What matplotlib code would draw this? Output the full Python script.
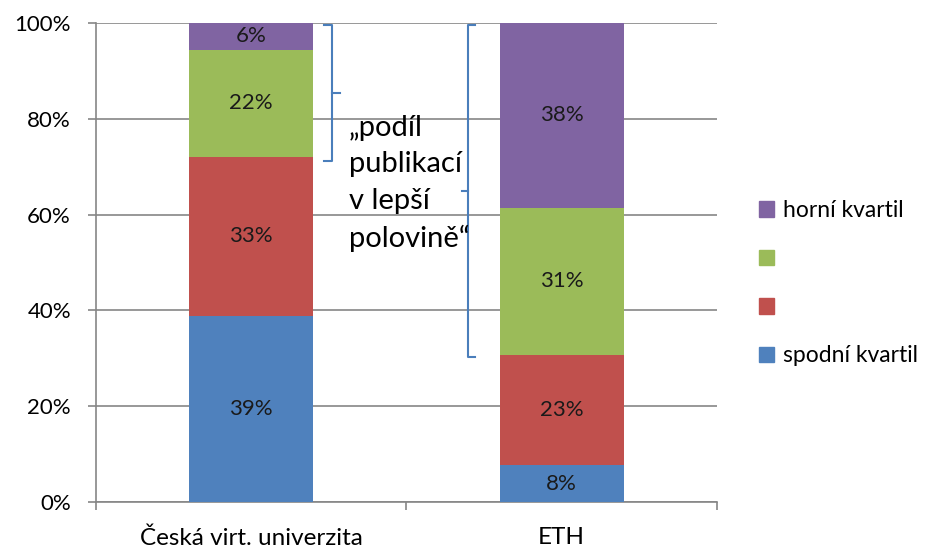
import matplotlib
matplotlib.use("Agg")
import matplotlib.pyplot as plt
import numpy as np
from matplotlib.patches import Patch

plt.rcParams['font.family'] = ['Lato', 'DejaVu Sans']

# data (shares, %)
categories = ["Česká virt. univerzita", "ETH"]
series_names = ["spodní kvartil", "", "", "horní kvartil"]
values = [
    [38.8, 7.7],    # spodní kvartil
    [33.3, 23.0],
    [22.3, 30.7],
    [5.6, 38.6],    # horní kvartil
]
value_labels = [
    ["39%", "8%"],
    ["33%", "23%"],
    ["22%", "31%"],
    ["6%", "38%"],
]
colors = ["#4F81BD", "#C0504D", "#9BBB59", "#8064A2"]
yticks = [0, 20, 40, 60, 80, 100]
ytick_labels = ["0%", "20%", "40%", "60%", "80%", "100%"]

fig = plt.figure(figsize=(9.29, 5.49), dpi=100)
ax = fig.add_axes([0.1033, 0.0856, 0.6685, 0.8725])

x = np.arange(len(categories))
bottom = np.zeros(len(categories))
for vals, labs, col in zip(values, value_labels, colors):
    vals = np.array(vals)
    ax.bar(x, vals, width=0.4, bottom=bottom, color=col, zorder=3)
    for xi, b, v, t in zip(x, bottom, vals, labs):
        ax.text(xi, b + v / 2, t, ha='center', va='center', fontsize=16,
                color='#1a1a1a', zorder=4)
    bottom = bottom + vals

ax.set_xlim(-0.5, 1.5)
ax.set_ylim(0, 100)
ax.set_yticks(yticks)
ax.set_yticklabels(ytick_labels, fontsize=16)
ax.set_xticks([-0.5, 0.5, 1.5])
ax.set_xticklabels([])
ax.set_xticks(x, minor=True)
ax.set_xticklabels(categories, minor=True, fontsize=17.5)
ax.tick_params(axis='x', which='minor', length=0, pad=18)
ax.tick_params(axis='both', which='major', length=6, width=1.2, color='#868686')
ax.tick_params(axis='y', pad=12)
ax.grid(axis='y', color='#868686', linewidth=1.2, zorder=0)
for s in ['top', 'right']:
    ax.spines[s].set_visible(False)
for s in ['left', 'bottom']:
    ax.spines[s].set_color('#868686')
    ax.spines[s].set_linewidth(1.2)

# brackets marking the better half (green + purple)
lo = np.array(values[0]) + np.array(values[1])
bc = '#4A7EBB'
# first bar: "]" with tip to the right
y0, y1 = lo[0] - 0.9, 99.6
ax.plot([0.234, 0.260, 0.260, 0.234], [y0, y0, y1, y1], color=bc, lw=1.5, zorder=5)
ax.plot([0.260, 0.286], [(y0 + y1) / 2] * 2, color=bc, lw=1.5, zorder=5)
# second bar: "[" with tip to the left
y0, y1 = lo[1] - 0.4, 99.6
ax.plot([0.722, 0.699, 0.699, 0.722], [y0, y0, y1, y1], color=bc, lw=1.5, zorder=5)
ax.plot([0.699, 0.680], [(y0 + y1) / 2] * 2, color=bc, lw=1.5, zorder=5)

ax.text(0.315, 80.8, "„podíl\npublikací\nv lepší\npolovině“", ha='left', va='top',
        fontsize=21, linespacing=1.5, color='black', zorder=6)

handles = [Patch(color=c) for c in colors[::-1]]
fig.legend(handles, series_names[::-1], loc='upper left',
           bbox_to_anchor=(0.817, 0.636), frameon=False, fontsize=16.5,
           handlelength=0.66, handleheight=0.66, handletextpad=0.4,
           labelspacing=1.2, borderaxespad=0, borderpad=0)

fig.savefig("out.png", dpi=100)
